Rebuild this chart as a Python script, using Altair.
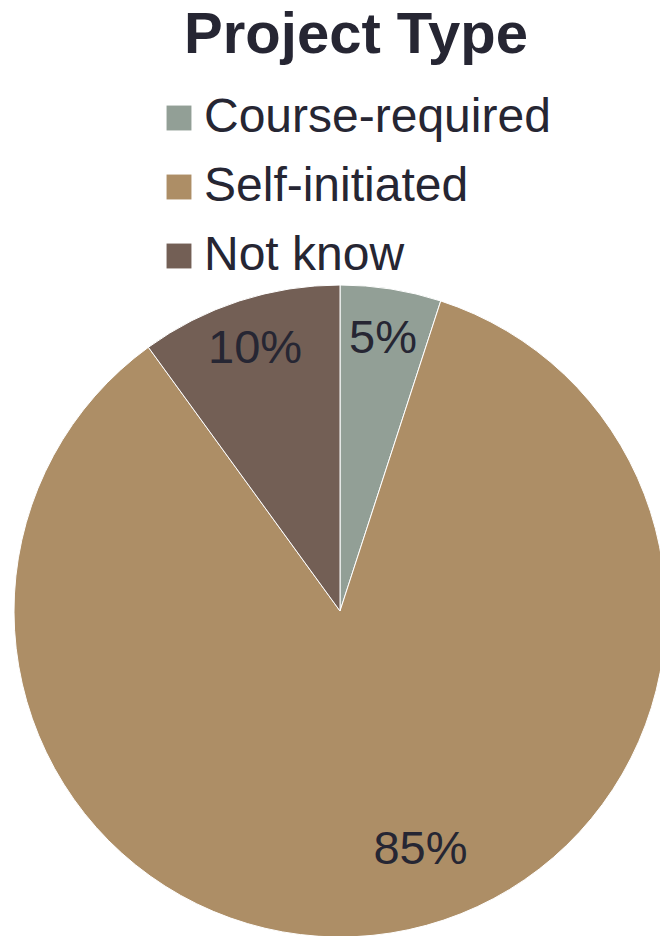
import altair as alt
import pandas as pd

categories = ["Course-required", "Self-initiated", "Not know"]
values = [5, 85, 10]
colors = ["#929F96", "#AD8E66", "#735F55"]

df = pd.DataFrame({
    "category": categories,
    "value": values,
    "order": list(range(len(categories))),
    "label": [f"{v}%" for v in values],
})

CX, CY, R = 340, 611, 326
TEXT = "#262633"
FONT = "Liberation Sans"

base = alt.Chart(df).encode(
    theta=alt.Theta("value:Q", stack=True),
    order=alt.Order("order:Q"),
)

arcs = base.mark_arc(stroke="white", strokeWidth=1).encode(
    x=alt.value(CX), y=alt.value(CY),
    color=alt.Color(
        "category:N",
        scale=alt.Scale(domain=categories, range=colors),
        sort=categories,
        legend=alt.Legend(
            title=None, orient="none", legendX=155, legendY=94,
            symbolType="square", symbolSize=620, symbolStrokeWidth=0,
            symbolOpacity=1,
            labelFontSize=48, labelFont=FONT, labelColor=TEXT,
            labelOffset=1, rowPadding=21, labelLimit=600,
        ),
    ),
    radius=alt.value(R),
)

small_labels = base.mark_text(
    radius=275, fontSize=47, font=FONT, color=TEXT
).encode(
    x=alt.value(CX), y=alt.value(CY), text="lab:N"
).transform_calculate(lab="datum.value < 50 ? datum.label : ''")

big_label = base.mark_text(
    radius=252, fontSize=47, font=FONT, color=TEXT, dx=41, dy=-10
).encode(
    x=alt.value(CX), y=alt.value(CY), text="lab:N"
).transform_calculate(lab="datum.value >= 50 ? datum.label : ''")

title = alt.Chart(df).mark_text(
    fontSize=58, fontWeight="bold", font=FONT, color=TEXT, baseline="alphabetic"
).encode(
    x=alt.value(356), y=alt.value(53), text=alt.value("Project Type")
).transform_filter(alt.datum.order == 0)

chart = alt.layer(arcs, small_labels, big_label, title).properties(
    width=660, height=936, padding=0, autosize=alt.AutoSizeParams(type="none"),
).configure_view(stroke=None)

chart.save("out.html", embed_options={"renderer": "svg", "actions": False})
